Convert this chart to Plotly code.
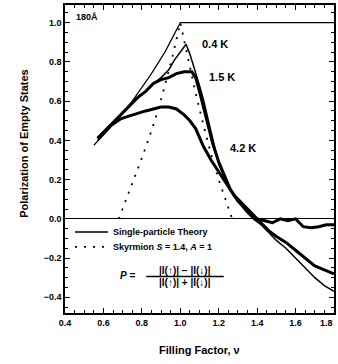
import plotly.graph_objects as go

# ---- data ----
theory_x = [0.55, 0.65, 0.75, 0.85, 0.92, 1.00, 1.80]
theory_y = [0.375, 0.48, 0.60, 0.74, 0.85, 1.00, 1.00]

sky_x = [0.68, 0.72, 0.76, 0.80, 0.84, 0.88, 0.92, 0.96, 1.00, 1.04, 1.08, 1.12, 1.16, 1.20, 1.24, 1.27]
sky_y = [0.00, 0.10, 0.20, 0.31, 0.42, 0.54, 0.68, 0.83, 1.00, 0.82, 0.64, 0.48, 0.33, 0.20, 0.08, 0.00]

k04_x = [0.57, 0.60, 0.63, 0.66, 0.70, 0.74, 0.78, 0.82, 0.86, 0.90, 0.94, 0.97, 1.00, 1.02, 1.03,
         1.05, 1.08, 1.10, 1.12, 1.14, 1.17, 1.20, 1.23, 1.26, 1.30, 1.34, 1.38, 1.42, 1.46, 1.50,
         1.55, 1.60, 1.65, 1.70, 1.75, 1.80]
k04_y = [0.40, 0.43, 0.46, 0.50, 0.54, 0.58, 0.62, 0.65, 0.69, 0.72, 0.76, 0.81, 0.85, 0.88, 0.89,
         0.84, 0.75, 0.68, 0.61, 0.53, 0.40, 0.28, 0.21, 0.15, 0.09, 0.04, 0.00, -0.03, -0.07, -0.11,
         -0.15, -0.20, -0.25, -0.30, -0.34, -0.37]

k15_x = [0.57, 0.60, 0.63, 0.66, 0.70, 0.74, 0.78, 0.82, 0.86, 0.90, 0.94, 0.98, 1.02, 1.06, 1.08,
         1.10, 1.12, 1.15, 1.17, 1.20, 1.23, 1.26, 1.30, 1.34, 1.38, 1.42, 1.46, 1.50, 1.55, 1.60,
         1.65, 1.70, 1.75, 1.80]
k15_y = [0.41, 0.44, 0.47, 0.50, 0.54, 0.58, 0.62, 0.65, 0.69, 0.71, 0.72, 0.74, 0.75, 0.75, 0.72,
         0.65, 0.57, 0.46, 0.38, 0.29, 0.22, 0.15, 0.09, 0.05, 0.01, -0.02, -0.06, -0.09, -0.12, -0.16,
         -0.20, -0.24, -0.26, -0.28]

k42_x = [0.57, 0.60, 0.63, 0.66, 0.69, 0.72, 0.75, 0.78, 0.82, 0.86, 0.90, 0.94, 0.98, 1.02, 1.05,
         1.08, 1.12, 1.16, 1.20, 1.24, 1.28, 1.32, 1.36, 1.40, 1.44, 1.48, 1.52, 1.56, 1.60, 1.64,
         1.68, 1.72, 1.76, 1.80]
k42_y = [0.41, 0.44, 0.47, 0.49, 0.51, 0.52, 0.53, 0.54, 0.55, 0.56, 0.57, 0.57, 0.56, 0.53, 0.50,
         0.46, 0.37, 0.30, 0.24, 0.18, 0.12, 0.08, 0.04, 0.00, -0.01, -0.02, 0.00, -0.01, 0.00, -0.04,
         -0.045, -0.04, -0.03, -0.03]

x_ticks = [0.4, 0.6, 0.8, 1.0, 1.2, 1.4, 1.6, 1.8]
y_ticks = [-0.4, -0.2, 0.0, 0.2, 0.4, 0.6, 0.8, 1.0]

X_RANGE = [0.4, 1.8]
Y_RANGE = [-0.48, 1.09]

FONT = "Liberation Sans, DejaVu Sans"

fig = go.Figure()
fig.add_trace(go.Scatter(x=k42_x, y=k42_y, mode="lines", line=dict(color="black", width=3),
                         showlegend=False))
fig.add_trace(go.Scatter(x=k15_x, y=k15_y, mode="lines", line=dict(color="black", width=3),
                         showlegend=False))
fig.add_trace(go.Scatter(x=k04_x, y=k04_y, mode="lines", line=dict(color="black", width=1.5),
                         showlegend=False))
fig.add_trace(go.Scatter(x=theory_x, y=theory_y, mode="lines", line=dict(color="black", width=1.2),
                         showlegend=False))
SKY_DASH = "2px,7px"
fig.add_trace(go.Scatter(x=sky_x, y=sky_y, mode="lines",
                         line=dict(color="black", width=1.8, dash=SKY_DASH), showlegend=False))
# empty trace on the mirror axes so they are drawn
fig.add_trace(go.Scatter(x=[], y=[], xaxis="x2", yaxis="y2", showlegend=False, hoverinfo="skip"))

ann = [
    dict(x=0.515, y=1.03, text="<b>180Å</b>", font_size=9),
    dict(x=1.18, y=0.89, text="<b>0.4 K</b>", font_size=11),
    dict(x=1.215, y=0.725, text="<b>1.5 K</b>", font_size=11),
    dict(x=1.325, y=0.36, text="<b>4.2 K</b>", font_size=11),
    dict(x=0.724, y=-0.291, text="<b><i>P</i> =</b>", font_size=10),
    dict(x=1.025, y=-0.262, text="<b>|I(↑)| − |I(↓)|</b>", font_size=10),
    dict(x=1.025, y=-0.326, text="<b>|I(↑)| + |I(↓)|</b>", font_size=10),
]
for a in ann:
    a.update(xref="x", yref="y", showarrow=False,
             font=dict(family=FONT, color="black", size=a.pop("font_size")))
    fig.add_annotation(**a)

# manual legend
leg_items = [
    (-0.067, "solid", "<b>Single-particle Theory</b>"),
    (-0.143, SKY_DASH, "<b>Skyrmion <i>S</i> = 1.4, <i>A</i> = 1</b>"),
]
for ly, dash, txt in leg_items:
    fig.add_shape(type="line", xref="x", yref="y", x0=0.452, x1=0.624, y0=ly, y1=ly,
                  line=dict(color="black", width=1.5 if dash == "solid" else 1.8, dash=dash))
    fig.add_annotation(xref="x", yref="y", x=0.64, y=ly, xanchor="left", yanchor="middle",
                       text=txt, showarrow=False, font=dict(family=FONT, size=9, color="black"))

fig.add_annotation(xref="paper", yref="paper", x=0.5, y=-0.12, yanchor="middle",
                   text="<b>Filling Factor, ν</b>", showarrow=False,
                   font=dict(family=FONT, size=11, color="black"))
fig.add_annotation(xref="paper", yref="paper", x=-0.185, y=0.55, textangle=-90,
                   text="<b>Polarization of Empty States</b>", showarrow=False,
                   font=dict(family=FONT, size=11, color="black"))

fig.add_shape(type="line", xref="x", yref="y", x0=0.823, x1=1.226, y0=-0.294, y1=-0.294,
              line=dict(color="black", width=1.5))

tick_common = dict(
    showline=True, linecolor="black", linewidth=1.5,
    ticks="inside", ticklen=5, tickwidth=1.2, tickcolor="black",
    showgrid=False, zeroline=False,
    minor=dict(ticks="inside", ticklen=3, tickwidth=1, tickcolor="black", dtick=0.05, showgrid=False),
)
tf = dict(family=FONT, size=9, color="black")

fig.update_layout(
    width=338, height=364,
    margin=dict(l=65, r=4, t=5, b=51),
    plot_bgcolor="white", paper_bgcolor="white",
    font=dict(family=FONT, color="black"),
    showlegend=False,
    xaxis=dict(range=X_RANGE, tickvals=x_ticks[:-1],
               ticktext=[f"<b>{v:.1f}</b>" for v in x_ticks[:-1]], tickfont=tf, **tick_common),
    yaxis=dict(range=Y_RANGE, tickvals=y_ticks,
               ticktext=[f"<b>{v:.1f}</b>".replace("-", "−") for v in y_ticks], tickfont=tf,
               **{**tick_common, "zeroline": True, "zerolinecolor": "black", "zerolinewidth": 1.2}),
    xaxis2=dict(range=X_RANGE, tickvals=x_ticks, overlaying="x", side="top",
                showticklabels=False, anchor="y2", **tick_common),
    yaxis2=dict(range=Y_RANGE, tickvals=y_ticks, overlaying="y", side="right",
                showticklabels=False, anchor="x2", **tick_common),
)
# last x tick label at the very edge, kept inside the page
fig.add_annotation(xref="x", yref="paper", x=x_ticks[-1], y=0, yshift=-10, xshift=1,
                   xanchor="right", yanchor="middle",
                   text=f"<b>{x_ticks[-1]:.1f}</b>", showarrow=False, font=tf)

fig.write_html("out.html")
